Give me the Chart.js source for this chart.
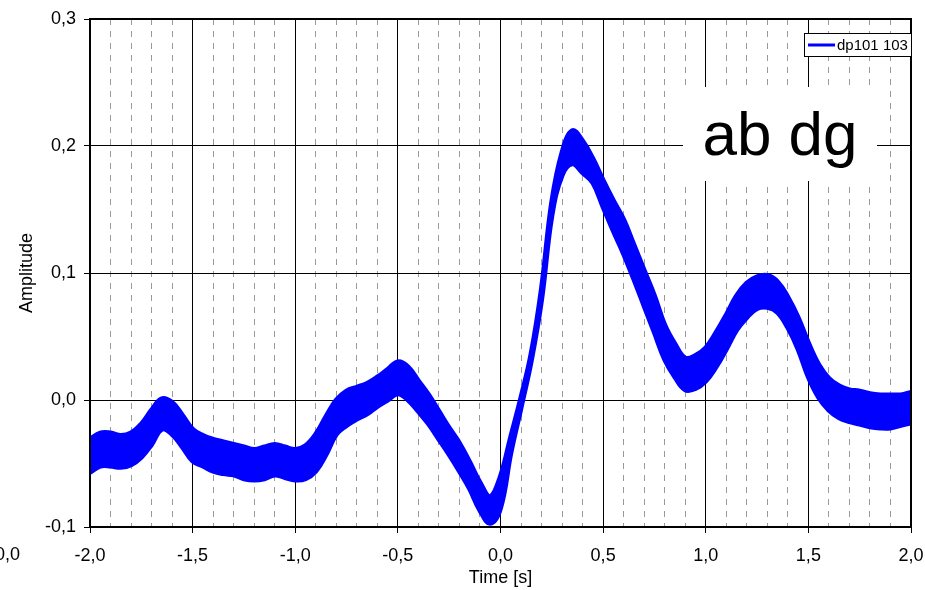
<!DOCTYPE html>
<html lang="en">

<head>
    <meta charset="UTF-8">
    <title>dp101 103</title>
    <script src="https://cdn.jsdelivr.net/npm/chart.js"></script>
    <style>
        html, body { margin: 0; padding: 0; background: #fff; }
        #wrap { width: 925px; height: 590px; }
    </style>
</head>

<body>
    <div id="wrap">
        <canvas id="ampChart" width="925" height="590"></canvas>
    </div>
    <script>
        // time axis (s)
        const times = [
            -2.00, -1.95, -1.90, -1.85, -1.80, -1.75, -1.70, -1.65, -1.60, -1.55,
            -1.50, -1.45, -1.40, -1.35, -1.30, -1.25, -1.20, -1.15, -1.10, -1.05,
            -1.00, -0.95, -0.90, -0.85, -0.80, -0.75, -0.70, -0.65, -0.60, -0.55,
            -0.50, -0.45, -0.40, -0.35, -0.30, -0.25, -0.20, -0.15, -0.10, -0.05,
            0.00, 0.05, 0.10, 0.15, 0.20, 0.25, 0.30, 0.35, 0.40, 0.45,
            0.50, 0.55, 0.60, 0.65, 0.70, 0.75, 0.80, 0.85, 0.90, 0.95,
            1.00, 1.05, 1.10, 1.15, 1.20, 1.25, 1.30, 1.35, 1.40, 1.45,
            1.50, 1.55, 1.60, 1.65, 1.70, 1.75, 1.80, 1.85, 1.90, 1.95,
            2.00
        ];

        // the signal oscillates fast, so it shows up as a band: top and bottom of it
        // (middle of the thick edge strokes)
        const upperEdge = [
            -0.031, -0.026, -0.026, -0.028, -0.026, -0.019, -0.008, 0.001, -0.002, -0.012,
            -0.023, -0.028, -0.031, -0.033, -0.035, -0.037, -0.039, -0.037, -0.035, -0.037,
            -0.039, -0.036, -0.027, -0.013, 0.000, 0.007, 0.010, 0.013, 0.018, 0.024,
            0.030, 0.026, 0.015, 0.004, -0.009, -0.022, -0.034, -0.049, -0.065, -0.076,
            -0.060, -0.029, 0.002, 0.037, 0.088, 0.156, 0.195, 0.212, 0.204, 0.190,
            0.173, 0.157, 0.142, 0.122, 0.102, 0.082, 0.059, 0.044, 0.033, 0.035,
            0.041, 0.053, 0.067, 0.082, 0.092, 0.097, 0.098, 0.093, 0.081, 0.065,
            0.045, 0.028, 0.017, 0.011, 0.008, 0.007, 0.005, 0.004, 0.004, 0.004,
            0.006
        ];
        const lowerEdge = [
            -0.057, -0.052, -0.052, -0.053, -0.051, -0.045, -0.035, -0.023, -0.027, -0.037,
            -0.048, -0.052, -0.056, -0.058, -0.059, -0.062, -0.063, -0.062, -0.059, -0.061,
            -0.063, -0.062, -0.056, -0.043, -0.027, -0.020, -0.015, -0.011, -0.005, 0.000,
            0.005, 0.000, -0.009, -0.019, -0.031, -0.043, -0.056, -0.070, -0.087, -0.097,
            -0.085, -0.042, -0.006, 0.031, 0.079, 0.145, 0.177, 0.186, 0.179, 0.171,
            0.152, 0.133, 0.115, 0.095, 0.074, 0.053, 0.032, 0.018, 0.008, 0.009,
            0.015, 0.026, 0.040, 0.055, 0.065, 0.072, 0.073, 0.069, 0.057, 0.040,
            0.018, 0.002, -0.008, -0.014, -0.017, -0.019, -0.021, -0.022, -0.022, -0.020,
            -0.018
        ];

        const seriesName = 'dp101 103';
        const noteText = 'ab dg';
        const strayLabel = '0,0';

        const FONT = 'Arial, "Liberation Sans", sans-serif';

        function comma(v) {
            return (Math.round(v * 10) / 10).toFixed(1).replace('.', ',');
        }

        function isMajor(v) {
            return Math.round(v * 10) % 5 === 0;
        }

        // black frame, legend box, text box and the cut-off label at the bottom left
        const extras = {
            id: 'extras',
            afterDraw(chart) {
                const ctx = chart.ctx;
                const a = chart.chartArea;
                ctx.save();

                ctx.strokeStyle = '#000';
                ctx.lineWidth = 2;
                ctx.strokeRect(a.left, a.top, a.right - a.left, a.bottom - a.top);

                // legend
                ctx.fillStyle = '#fff';
                ctx.fillRect(804.5, 33.5, 107, 23);
                ctx.lineWidth = 1;
                ctx.strokeStyle = '#000';
                ctx.strokeRect(804.5, 33.5, 107, 23);
                ctx.strokeStyle = '#0000ff';
                ctx.lineWidth = 3;
                ctx.beginPath();
                ctx.moveTo(808, 45);
                ctx.lineTo(835, 45);
                ctx.stroke();
                ctx.fillStyle = '#000';
                ctx.font = '15px ' + FONT;
                ctx.textAlign = 'left';
                ctx.textBaseline = 'middle';
                ctx.fillText(chart.data.datasets[0].label, 837, 45.5);

                // text box
                ctx.fillStyle = '#fff';
                ctx.fillRect(683, 87, 194, 94);
                ctx.fillStyle = '#000';
                ctx.font = '62px ' + FONT;
                ctx.textAlign = 'center';
                ctx.textBaseline = 'alphabetic';
                ctx.fillText(noteText, 780, 155);

                ctx.font = '18px ' + FONT;
                ctx.textAlign = 'right';
                ctx.textBaseline = 'middle';
                ctx.fillText(strayLabel, 20, 555);
                ctx.restore();
            }
        };

        function renderChart() {
            const ctx = document.getElementById('ampChart').getContext('2d');

            const upperPts = times.map((t, i) => ({ x: t, y: upperEdge[i] }));
            const lowerPts = times.map((t, i) => ({ x: t, y: lowerEdge[i] }));

            new Chart(ctx, {
                type: 'line',
                data: {
                    datasets: [{
                        label: seriesName,
                        data: upperPts,
                        borderColor: '#0000ff',
                        borderWidth: 5,
                        pointRadius: 0,
                        tension: 0.4,
                        fill: false
                    }, {
                        label: seriesName + ' low',
                        data: lowerPts,
                        borderColor: '#0000ff',
                        backgroundColor: '#0000ff',
                        borderWidth: 5,
                        pointRadius: 0,
                        tension: 0.4,
                        fill: '-1'
                    }]
                },
                options: {
                    responsive: false,
                    animation: false,
                    devicePixelRatio: 1,
                    layout: { padding: { left: 0, top: 19, right: 14, bottom: 0 } },
                    plugins: {
                        legend: { display: false },
                        tooltip: { enabled: false }
                    },
                    scales: {
                        x: {
                            type: 'linear',
                            min: -2,
                            max: 2,
                            afterFit: (s) => {
                                s.height = 63;
                                s.paddingLeft = 0;
                                s.paddingRight = 0;
                            },
                            ticks: {
                                stepSize: 0.1,
                                autoSkip: false,
                                maxRotation: 0,
                                padding: 12,
                                color: '#000',
                                font: { family: FONT, size: 18 },
                                callback: (v) => isMajor(v) ? comma(v) : ''
                            },
                            grid: {
                                color: (c) => isMajor(c.tick.value) ? '#000' : '#9a9a9a',
                                lineWidth: 1,
                                tickLength: 6,
                                tickColor: (c) => isMajor(c.tick.value) ? '#000' : 'rgba(0,0,0,0)'
                            },
                            border: {
                                display: false,
                                dash: (c) => (c.tick && !isMajor(c.tick.value)) ? [6, 6] : []
                            },
                            title: {
                                display: true,
                                text: 'Time [s]',
                                color: '#000',
                                font: { family: FONT, size: 18 },
                                padding: { top: 0, bottom: 1 }
                            }
                        },
                        y: {
                            min: -0.1,
                            max: 0.3,
                            afterFit: (s) => {
                                s.width = 90;
                                s.paddingTop = 0;
                                s.paddingBottom = 0;
                            },
                            ticks: {
                                stepSize: 0.1,
                                padding: 8,
                                color: '#000',
                                font: { family: FONT, size: 18 },
                                callback: (v) => comma(v)
                            },
                            grid: {
                                color: '#000',
                                lineWidth: 1,
                                tickLength: 6,
                                tickColor: '#000'
                            },
                            border: { display: false },
                            title: {
                                display: true,
                                text: 'Amplitude',
                                color: '#000',
                                font: { family: FONT, size: 18 },
                                padding: { top: 16, bottom: 0 }
                            }
                        }
                    }
                },
                plugins: [extras]
            });
        }

        renderChart();
    </script>

</body>

</html>
